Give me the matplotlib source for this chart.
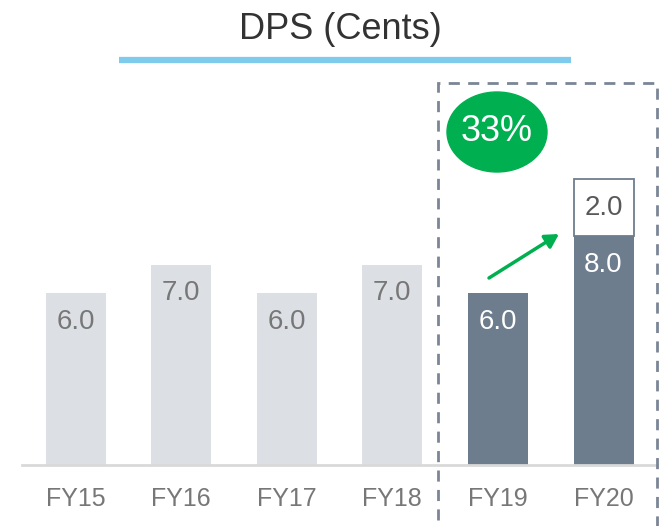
import matplotlib
matplotlib.use("Agg")
import matplotlib.pyplot as plt
from matplotlib.patches import Rectangle, Ellipse

# ── Data ──────────────────────────────────────────────────────────────────────
years     = ["FY15", "FY16", "FY17", "FY18", "FY19", "FY20"]
dps       = [6.0, 7.0, 6.0, 7.0, 6.0, 8.0]
special   = [0, 0, 0, 0, 0, 2.0]          # extra on top of FY20
highlight = [False, False, False, False, True, True]
growth    = "33%"

# ── Style ─────────────────────────────────────────────────────────────────────
C_LIGHT = "#DCDFE3"
C_DARK  = "#6E7D8E"
C_GREEN = "#00B050"
C_BLUE  = "#7FCBEE"
C_TXT   = "#777777"
C_BOX   = "#7B8595"

plt.rcParams["font.family"] = ["Liberation Sans", "DejaVu Sans"]

# pixel -> data helpers (bar pitch ~105.6 px, 28.6 px per cent)
PX0, PITCH, PPU = 75.5, 105.6, 28.6
def dx(px):
    return (px - PX0) / PITCH

fig = plt.figure(figsize=(6.64, 5.26), dpi=100)
ax = fig.add_axes([0, 61 / 526, 1, 465 / 526])
ax.set_xlim(dx(0), dx(664))
ax.set_ylim(0, 465 / PPU)
ax.axis("off")

x = list(range(len(years)))
colors = [C_DARK if h else C_LIGHT for h in highlight]
ax.bar(x, dps, width=60 / PITCH, color=colors, zorder=2)
sx = [i for i, s in zip(x, special) if s]
ax.bar(sx, [special[i] for i in sx], bottom=[dps[i] for i in sx],
       width=60 / PITCH, color="white", edgecolor=C_DARK, linewidth=1.3,
       zorder=2)

# baseline
ax.plot([dx(22), dx(657)], [0, 0], color="#D9D9D9", lw=2, zorder=3,
        clip_on=False)

# value labels
for i, (v, s, h) in enumerate(zip(dps, special, highlight)):
    ax.text(i, v - 1.0, f"{v:.1f}", ha="center", va="center", fontsize=20,
            color="white" if h else C_TXT, zorder=4)
    if s:
        ax.text(i, v + s / 2, f"{s:.1f}", ha="center", va="center",
                fontsize=20, color="#595959", zorder=4)

# category labels
for i, lab in enumerate(years):
    ax.text(i, -34 / PPU, lab, ha="center", va="center", fontsize=18,
            color=C_TXT, clip_on=False)

# title + underline
ax.text(dx(340), 435 / PPU, "DPS (Cents)", ha="center", va="center",
        fontsize=26, color="#333333")
ax.plot([dx(119), dx(571)], [405 / PPU] * 2, color=C_BLUE, lw=4.5,
        solid_capstyle="butt")

# dashed highlight box (runs off the bottom of the figure)
ax.add_patch(Rectangle((dx(438), -90 / PPU), dx(657) - dx(438), 472 / PPU,
                       fill=False, edgecolor=C_BOX, lw=2, ls=(0, (4, 3)),
                       clip_on=False, zorder=5))

# growth bubble
ax.add_patch(Ellipse((dx(497), 333 / PPU), 100 / PITCH, 80 / PPU,
                     color=C_GREEN, zorder=5))
ax.text(dx(497), 333 / PPU, growth, ha="center", va="center", fontsize=26,
        color="white", zorder=6)

# arrow FY19 -> FY20
ax.annotate("", xy=(dx(559), 231 / PPU), xytext=(dx(489), 187 / PPU),
            arrowprops=dict(arrowstyle="-|>,head_length=0.8,head_width=0.45",
                            color=C_GREEN, lw=2.5, shrinkA=0, shrinkB=0),
            zorder=6)

fig.savefig("out.png", dpi=100)
